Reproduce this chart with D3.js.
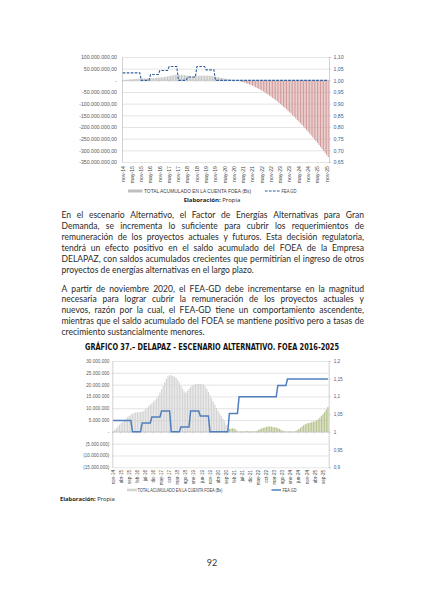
<!DOCTYPE html>
<html><head><meta charset="utf-8">
<script src="https://cdn.jsdelivr.net/npm/d3@7"></script>
<style>
html,body{margin:0;padding:0;background:#fff;}
svg{display:block}
</style></head><body>
<script>
// ---------- categories ----------
const months = [
 "nov-14","dic-14",
 "ene-15","feb-15","mar-15","abr-15","may-15","jun-15","jul-15","ago-15","sep-15","oct-15","nov-15","dic-15",
 "ene-16","feb-16","mar-16","abr-16","may-16","jun-16","jul-16","ago-16","sep-16","oct-16","nov-16","dic-16",
 "ene-17","feb-17","mar-17","abr-17","may-17","jun-17","jul-17","ago-17","sep-17","oct-17","nov-17","dic-17",
 "ene-18","feb-18","mar-18","abr-18","may-18","jun-18","jul-18","ago-18","sep-18","oct-18","nov-18","dic-18",
 "ene-19","feb-19","mar-19","abr-19","may-19","jun-19","jul-19","ago-19","sep-19","oct-19","nov-19","dic-19",
 "ene-20","feb-20","mar-20","abr-20","may-20","jun-20","jul-20","ago-20","sep-20","oct-20","nov-20","dic-20",
 "ene-21","feb-21","mar-21","abr-21","may-21","jun-21","jul-21","ago-21","sep-21","oct-21","nov-21","dic-21",
 "ene-22","feb-22","mar-22","abr-22","may-22","jun-22","jul-22","ago-22","sep-22","oct-22","nov-22","dic-22",
 "ene-23","feb-23","mar-23","abr-23","may-23","jun-23","jul-23","ago-23","sep-23","oct-23","nov-23","dic-23",
 "ene-24","feb-24","mar-24","abr-24","may-24","jun-24","jul-24","ago-24","sep-24","oct-24","nov-24","dic-24",
 "ene-25","feb-25","mar-25","abr-25","may-25","jun-25","jul-25","ago-25","sep-25","oct-25","nov-25","dic-25"
];

// ---------- series (FOEA in millions of Bs) ----------
// historical balance nov-14 .. oct-20 (same in both scenarios)
const foeaHist = [
 0.2,0.9,1.6,2.3,3.0,3.7,4.4,5.0,5.6,6.2,
 6.8,7.3,7.7,8.0,8.2,8.3,8.3,8.4,8.5,8.9,
 9.5,10.2,10.9,11.5,12.1,12.7,13.4,14.2,15.3,16.6,
 18.0,19.5,21.0,22.4,23.5,24.0,23.9,23.7,23.4,22.9,
 22.0,20.9,19.6,18.3,17.2,16.6,17.3,18.2,19.0,19.6,
 20.0,20.2,20.3,20.3,20.3,20.2,20.0,19.3,18.2,16.9,
 15.5,14.1,12.8,11.5,10.2,8.9,7.8,6.7,5.6,4.4,
 3.0,1.6
];
// projected balance nov-20 .. dic-25, previous (base) scenario
const foeaBaseProj = [
 -0.3,-1,-2,-3,-4.6,-6.2,-8,-10,-12.4,-14.8,
 -17.4,-20,-23,-26,-29.5,-33,-36.5,-40,-44,-48,
 -52,-56.5,-61,-65.5,-70,-75,-80,-85,-90,-96,
 -101,-107,-113,-118,-124,-131,-137,-143,-150,-156,
 -163,-170,-177,-184,-191,-198,-205,-213,-220,-228,
 -236,-244,-252,-260,-268,-277,-285,-294,-302,-311,
 -320,-329
];
// projected balance nov-20 .. dic-25, alternative scenario
const foeaAltProj = [
 1.2,1.4,1.5,1.4,1.0,0.3,0.1,0.2,0.2,0.1,
 0.3,0.4,0.2,0.1,0.2,0.3,0.2,0.4,0.8,1.2,
 1.5,1.7,1.9,2.1,2.3,2.3,2.2,2.0,1.9,1.8,
 1.6,1.3,0.9,0.5,0.3,0.2,0.1,0.3,0.2,0.1,
 0.1,0.3,0.7,1.2,1.7,2.3,2.8,3.2,3.5,3.7,
 3.9,4.1,4.3,4.5,4.8,5.3,6.0,6.8,7.6,8.5,
 9.5,10.5
];
// FEA-GD factor
const feaHist = [
 1.032,1.032,1.032,1.032,1.032,1.032,1.032,1.032,1.032,1.032,1.032,1.032,
 1.000,1.000,1.000,1.000,1.000,1.000,
 1.025,1.025,1.025,1.025,1.025,1.025,
 1.042,1.042,1.042,1.042,1.042,1.042,
 1.059,1.059,1.059,1.059,1.059,1.059,
 1.000,1.000,1.000,1.000,1.000,1.000,
 1.014,1.014,1.014,1.014,1.014,1.014,
 1.059,1.059,1.059,1.059,1.059,1.059,
 1.045,1.045,1.045,1.045,1.045,1.045,
 1.000,1.000,1.000,1.000,1.000,1.000,1.000,1.000,1.000,1.000,1.000,1.000
];
const feaBaseProj = [
 1,1,1,1,1,1,1,1,1,1, 1,1,1,1,1,1,1,1,1,1, 1,1,1,1,1,1,1,1,1,1,
 1,1,1,1,1,1,1,1,1,1, 1,1,1,1,1,1,1,1,1,1, 1,1,1,1,1,1,1,1,1,1, 1,1
];
const feaAltProj = [
 1.052,1.052,1.052,1.052,1.052,1.052,
 1.099,1.099,1.099,1.099,1.099,1.099,1.099,1.099,1.099,1.099,1.099,1.099,
 1.099,1.099,1.099,1.099,1.099,1.099,1.099,1.099,1.099,1.099,1.099,1.099,
 1.131,1.131,1.131,1.131,1.131,1.131,
 1.149,1.149,1.149,1.149,1.149,1.149,1.149,1.149,1.149,1.149,1.149,1.149,1.149,
 1.149,1.149,1.149,1.149,1.149,1.149,1.149,1.149,1.149,1.149,1.149,1.149,1.149
];

// ---------- tick labels ----------
const c1LeftTicks = [100,50,0,-50,-100,-150,-200,-250,-300,-350];
const c1LeftLabels = ["100.000.000,00","50.000.000,00","-","-50.000.000,00","-100.000.000,00","-150.000.000,00","-200.000.000,00","-250.000.000,00","-300.000.000,00","-350.000.000,00"];
const c1RightTicks = [1.10,1.05,1.00,0.95,0.90,0.85,0.80,0.75,0.70,0.65];
const c1RightLabels = ["1,10","1,05","1,00","0,95","0,90","0,85","0,80","0,75","0,70","0,65"];
const c1XTicks = ["nov-14","may-15","nov-15","may-16","nov-16","may-17","nov-17","may-18","nov-18","may-19","nov-19","may-20","nov-20","may-21","nov-21","may-22","nov-22","may-23","nov-23","may-24","nov-24","may-25","nov-25"];

const c2LeftTicks = [30,25,20,15,10,5,0,-5,-10,-15];
const c2LeftLabels = ["30.000.000","25.000.000","20.000.000","15.000.000","10.000.000","5.000.000","-","(5.000.000)","(10.000.000)","(15.000.000)"];
const c2RightTicks = [1.2,1.15,1.1,1.05,1,0.95,0.9];
const c2RightLabels = ["1,2","1,15","1,1","1,05","1","0,95","0,9"];
const c2XTicks = ["nov-14","abr-15","sep-15","feb-16","jul-16","dic-16","may-17","oct-17","mar-18","ago-18","ene-19","jun-19","nov-19","abr-20","sep-20","feb-21","jul-21","dic-21","may-22","oct-22","mar-23","ago-23","ene-24","jun-24","nov-24","abr-25","sep-25"];

const legendBars = "TOTAL ACUMULADO EN LA CUENTA FOEA (Bs)";
const legendLine = "FEA GD";
const chart2Title = "GRÁFICO 37.– DELAPAZ - ESCENARIO ALTERNATIVO. FOEA 2016-2025";
const para1 = [
 "En el escenario Alternativo, el Factor de Energías Alternativas para Gran",
 "Demanda, se incrementa lo suficiente para cubrir los requerimientos de",
 "remuneración de los proyectos actuales y futuros.  Esta decisión regulatoria,",
 "tendrá un efecto positivo en el saldo acumulado del FOEA de la Empresa",
 "DELAPAZ, con saldos acumulados crecientes que permitirían el ingreso de otros",
 "proyectos de energías alternativas en el largo plazo."
];
const para2 = [
 "A partir de noviembre 2020, el FEA-GD debe incrementarse en la magnitud",
 "necesaria para lograr cubrir la remuneración de los proyectos actuales y",
 "nuevos, razón por la cual, el FEA-GD tiene un comportamiento ascendente,",
 "mientras que el saldo acumulado del FOEA se mantiene positivo pero a tasas de",
 "crecimiento sustancialmente menores."
];
const pageNumber = "92";

// ---------- drawing ----------
const svg = d3.select("body").append("svg").attr("width",424).attr("height",600);
svg.append("rect").attr("width",424).attr("height",600).attr("fill","#fff");
const AX = "'Liberation Sans', Arial, sans-serif";

function drawChart(c){
  const g = svg.append("g");
  const x = d3.scaleBand().domain(months).range([c.x0,c.x1]).paddingInner(c.pad).paddingOuter(c.pad/2);
  const yL = d3.scaleLinear().domain(c.leftDomain).range([c.yB,c.yT]);
  const yR = d3.scaleLinear().domain(c.rightDomain).range([c.yB,c.yT]);
  const cx = m => x(m) + x.bandwidth()/2;

  // gridlines
  const grid = g.append("g").attr("transform",`translate(${c.x0},0)`)
    .call(d3.axisLeft(yL).tickValues(c.leftTicks).tickSize(-(c.x1-c.x0)).tickFormat(""));
  grid.select(".domain").remove();
  grid.selectAll("line").attr("stroke","#d9d9d9").attr("stroke-width",0.7);

  // bars
  const vals = c.hist.concat(c.proj);
  g.append("g").selectAll("rect").data(vals).join("rect")
    .attr("x",(d,i)=>x(months[i]))
    .attr("width",x.bandwidth())
    .attr("y",d=>yL(Math.max(0,d)))
    .attr("height",d=>Math.abs(yL(d)-yL(0)))
    .attr("fill",(d,i)=> i < c.hist.length ? c.histColor : c.projColor);

  // zero axis line + small ticks
  g.append("line").attr("x1",c.x0).attr("x2",c.x1).attr("y1",yL(0)).attr("y2",yL(0))
    .attr("stroke","#bfbfbf").attr("stroke-width",0.7);
  g.append("g").selectAll("line").data(c.xTicks).join("line")
    .attr("x1",m=>x(m)).attr("x2",m=>x(m)).attr("y1",yL(0)).attr("y2",yL(0)+1.6)
    .attr("stroke","#bfbfbf").attr("stroke-width",0.5);

  // left axis
  const la = g.append("g").attr("transform",`translate(${c.x0},0)`)
    .call(d3.axisLeft(yL).tickValues(c.leftTicks).tickSize(0).tickPadding(c.lPad)
      .tickFormat((d,i)=>c.leftLabels[i]));
  la.select(".domain").attr("stroke","#bfbfbf").attr("stroke-width",0.7);
  la.selectAll("text").attr("fill","#595959").style("font-family",AX).style("font-size",c.fs+"px");

  // right axis
  const ra = g.append("g").attr("transform",`translate(${c.x1},0)`)
    .call(d3.axisRight(yR).tickValues(c.rightTicks).tickSize(2).tickPadding(c.rPad)
      .tickFormat((d,i)=>c.rightLabels[i]));
  ra.select(".domain").attr("stroke","#bfbfbf").attr("stroke-width",0.7);
  ra.selectAll("line").attr("stroke","#bfbfbf").attr("stroke-width",0.6);
  ra.selectAll("text").attr("fill","#376092").style("font-family",AX).style("font-size",c.fs+"px");

  // x labels
  g.append("g").selectAll("text").data(c.xTicks).join("text")
    .attr("transform",m=>`translate(${cx(m)+c.fs*0.35},${c.xLabY}) rotate(-90)`)
    .attr("text-anchor","end")
    .attr("fill","#404040").style("font-family",AX).style("font-size",c.fs+"px")
    .text(m=>m);

  // FEA line
  const fea = c.feaHist.concat(c.feaProj);
  const line = d3.line().x((d,i)=>cx(months[i])).y(d=>yR(d));
  const p = g.append("path").datum(fea).attr("d",line).attr("fill","none")
    .attr("stroke",c.lineColor).attr("stroke-width",c.lineW);
  if(c.dash) p.attr("stroke-dasharray",c.dash);

  // legend
  const L = c.legend;
  g.append("rect").attr("x",L.sx).attr("y",L.y-L.sh/2).attr("width",L.sw).attr("height",L.sh).attr("fill",L.swColor);
  g.append("text").attr("x",L.tx).attr("y",L.y+L.fs*0.36).attr("textLength",L.tw).attr("lengthAdjust","spacingAndGlyphs")
    .attr("fill","#404040").style("font-family",AX).style("font-size",L.fs+"px").text(legendBars);
  const ll = g.append("line").attr("x1",L.lx).attr("x2",L.lx+L.lw).attr("y1",L.y).attr("y2",L.y)
    .attr("stroke",c.lineColor).attr("stroke-width",c.lineW);
  if(c.dash) ll.attr("stroke-dasharray",c.dash);
  g.append("text").attr("x",L.lx+L.lw+1.5).attr("y",L.y+L.fs*0.36).attr("textLength",L.lt).attr("lengthAdjust","spacingAndGlyphs")
    .attr("fill","#404040").style("font-family",AX).style("font-size",L.fs+"px").text(legendLine);
}

drawChart({
  x0:122, x1:329, yT:57, yB:162, pad:0.3,
  leftDomain:[-350,100], rightDomain:[0.65,1.10],
  leftTicks:c1LeftTicks, leftLabels:c1LeftLabels, rightTicks:c1RightTicks, rightLabels:c1RightLabels,
  xTicks:c1XTicks, xLabY:166, fs:5.2, lPad:5, rPad:2.5,
  hist:foeaHist, proj:foeaBaseProj, histColor:"#c4c4c4", projColor:"#d29c9c",
  feaHist:feaHist, feaProj:feaBaseProj, lineColor:"#2f5f9e", lineW:1.1, dash:"2.6,1.4",
  legend:{y:191, sx:128, sw:14.5, sh:3, swColor:"#bfbfbf", tx:144, tw:107, fs:5, lx:265, lw:15, lt:15}
});

drawChart({
  x0:112.3, x1:328.7, yT:361, yB:467.3, pad:0.25,
  leftDomain:[-15,30], rightDomain:[0.9,1.2],
  leftTicks:c2LeftTicks, leftLabels:c2LeftLabels, rightTicks:c2RightTicks, rightLabels:c2RightLabels,
  xTicks:c2XTicks, xLabY:470, fs:4.6, lPad:3, rPad:3,
  hist:foeaHist, proj:foeaAltProj, histColor:"#d4d4d4", projColor:"#b7c48e",
  feaHist:feaHist, feaProj:feaAltProj, lineColor:"#4f7fbd", lineW:1.5, dash:null,
  legend:{y:490, sx:127, sw:10, sh:2.6, swColor:"#d4d4d4", tx:137.5, tw:85, fs:4.5, lx:271.5, lw:9.5, lt:14}
});

// Elaboración captions
function caption(xp, yp, anchor, fs){
  const t = svg.append("text").attr("x",xp).attr("y",yp).attr("text-anchor",anchor)
    .attr("fill","#262626").style("font-family","'Open Sans', sans-serif").style("font-size",fs+"px");
  t.append("tspan").style("font-weight","bold").text("Elaboración:");
  t.append("tspan").text(" Propia");
}
caption(212, 202, "middle", 6);
caption(60, 500.5, "start", 5.8);

// Title of chart 2
svg.append("text").attr("x",85).attr("y",349.5).attr("textLength",254).attr("lengthAdjust","spacingAndGlyphs")
  .attr("fill","#111").style("font-family","'DejaVu Sans', sans-serif").style("font-weight","bold").style("font-size","8.2px")
  .text(chart2Title);

// justified paragraphs
const BODY = "'Lato', 'DejaVu Sans', sans-serif";
const TX0 = 61.5, TW = 302.5;
let bodyFs = 9.6;
function measureLine(str, fs){
  const t = svg.append("text").style("font-family",BODY).style("font-size",fs+"px").attr("xml:space","preserve").text(str.replace(/\s+/g," "));
  const w = t.node().getComputedTextLength(); t.remove(); return w;
}
const allLines = para1.concat(para2);
const maxW = d3.max(allLines, s => measureLine(s, bodyFs));
if (maxW > TW - 4) bodyFs = bodyFs * (TW - 4) / maxW;

function drawLine(str, yb, justify){
  const words = str.split(/\s+/);
  const nodes = words.map(w => svg.append("text").attr("y",yb).attr("fill","#2b2b2b")
    .style("font-family",BODY).style("font-size",bodyFs+"px").text(w));
  const widths = nodes.map(n => n.node().getComputedTextLength());
  const sum = d3.sum(widths);
  const spaceW = measureLine("a a",bodyFs) - measureLine("aa",bodyFs);
  const gap = justify ? (TW - sum)/(words.length-1) : spaceW;
  let xp = TX0;
  nodes.forEach((n,i)=>{ n.attr("x",xp); xp += widths[i] + gap; });
}
const LH = 10.9;
para1.forEach((s,i)=> drawLine(s, 218 + i*LH, i < para1.length-1));
para2.forEach((s,i)=> drawLine(s, 291.5 + i*LH, i < para2.length-1));

// page number
svg.append("text").attr("x",212).attr("y",566).attr("text-anchor","middle").attr("fill","#333")
  .style("font-family",BODY).style("font-size","9px").text(pageNumber);
</script>
</body></html>
